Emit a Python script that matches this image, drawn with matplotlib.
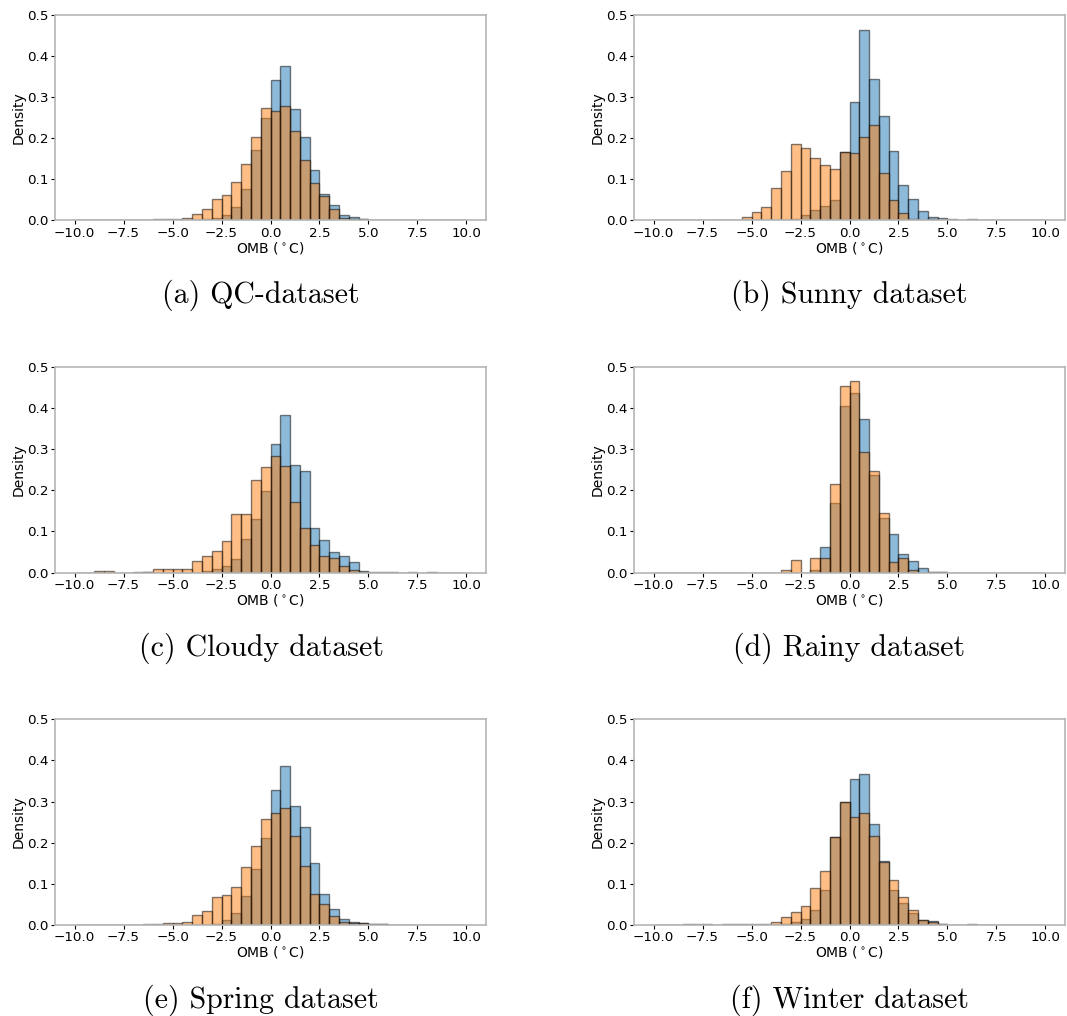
import numpy as np
import matplotlib
matplotlib.use('Agg')
import matplotlib.pyplot as plt

# bin edges -10 .. 10, step 0.5 (40 bins); values are density per bin
edges = np.arange(-10, 10.5, 0.5)

qc_blue = [0, 0, 0, 0, 0, 0, 0, 0.0005, 0.0005, 0.0005, 0.001, 0.001, 0.001, 0.002, 0.006, 0.012,
           0.032, 0.077, 0.170, 0.248, 0.340, 0.376, 0.271, 0.203, 0.122, 0.065, 0.036, 0.013,
           0.008, 0.003, 0.0015, 0.0005, 0, 0, 0, 0, 0, 0, 0, 0]
qc_orange = [0, 0, 0.0005, 0.0005, 0.0005, 0.0005, 0.0005, 0.001, 0.0025, 0.0025, 0.004, 0.006,
             0.015, 0.028, 0.051, 0.061, 0.092, 0.136, 0.203, 0.274, 0.267, 0.278, 0.216, 0.147,
             0.090, 0.058, 0.028, 0.0065, 0.004, 0.0025, 0.001, 0.0003, 0.0003, 0.0003, 0.0003,
             0.0005, 0.0005, 0, 0, 0]

sunny_blue = [0, 0, 0, 0, 0, 0, 0, 0, 0, 0, 0, 0, 0, 0, 0.0025, 0.012, 0.024, 0.034, 0.049, 0.165,
              0.288, 0.462, 0.343, 0.253, 0.168, 0.085, 0.053, 0.022, 0.009, 0.005, 0.0025, 0.001,
              0.0025, 0, 0, 0, 0, 0, 0, 0]
sunny_orange = [0, 0, 0, 0, 0, 0, 0, 0, 0.001, 0.008, 0.019, 0.032, 0.078, 0.119, 0.186, 0.177,
                0.151, 0.135, 0.124, 0.165, 0.164, 0.202, 0.231, 0.114, 0.049, 0.017, 0.003, 0.001,
                0.004, 0.001, 0, 0, 0, 0, 0, 0, 0, 0, 0, 0]

cloudy_blue = [0, 0, 0, 0, 0, 0, 0.002, 0.002, 0, 0, 0, 0, 0, 0.003, 0.009, 0.015, 0.033, 0.082,
               0.130, 0.199, 0.312, 0.383, 0.261, 0.247, 0.108, 0.079, 0.051, 0.041, 0.025, 0.005,
               0.0025, 0.0015, 0.0025, 0, 0, 0, 0.001, 0, 0, 0]
cloudy_orange = [0, 0, 0.003, 0.003, 0, 0, 0, 0.0015, 0.009, 0.008, 0.008, 0.008, 0.028, 0.041,
                 0.052, 0.078, 0.143, 0.142, 0.224, 0.257, 0.284, 0.259, 0.171, 0.108, 0.068, 0.040,
                 0.035, 0.016, 0.006, 0.0025, 0, 0, 0, 0, 0.001, 0, 0, 0, 0, 0]

rainy_blue = [0, 0, 0, 0, 0, 0, 0, 0, 0, 0, 0, 0, 0, 0, 0, 0, 0.006, 0.062, 0.169, 0.404, 0.437,
              0.374, 0.237, 0.133, 0.093, 0.045, 0.028, 0.010, 0.0025, 0.0015, 0, 0, 0, 0, 0, 0,
              0, 0, 0, 0]
rainy_orange = [0, 0, 0, 0, 0, 0, 0, 0, 0, 0, 0, 0, 0, 0.0065, 0.030, 0, 0.036, 0.035, 0.215,
                0.453, 0.465, 0.293, 0.247, 0.146, 0.025, 0.035, 0.006, 0, 0.0015, 0.0025, 0, 0,
                0, 0, 0, 0, 0, 0, 0, 0]

spring_blue = [0, 0, 0, 0, 0, 0, 0, 0, 0, 0, 0, 0, 0, 0, 0.003, 0.011, 0.028, 0.071, 0.137, 0.211,
               0.327, 0.386, 0.290, 0.239, 0.151, 0.075, 0.039, 0.014, 0.007, 0.004, 0.0025, 0.001,
               0, 0, 0, 0, 0, 0, 0, 0]
spring_orange = [0, 0, 0, 0, 0, 0, 0, 0.001, 0.003, 0.005, 0.005, 0.008, 0.025, 0.035, 0.067,
                 0.072, 0.093, 0.142, 0.193, 0.257, 0.271, 0.285, 0.217, 0.144, 0.074, 0.051, 0.022,
                 0.006, 0.005, 0.005, 0.0025, 0.001, 0.0008, 0.0008, 0, 0, 0, 0, 0, 0]

winter_blue = [0, 0, 0, 0.001, 0, 0, 0, 0.0025, 0, 0, 0, 0, 0, 0.0025, 0.008, 0.015, 0.037, 0.086,
               0.214, 0.298, 0.356, 0.367, 0.246, 0.156, 0.086, 0.054, 0.029, 0.012, 0.010, 0.0015,
               0, 0, 0.001, 0, 0, 0, 0.0005, 0, 0, 0]
winter_orange = [0, 0, 0, 0, 0.0015, 0.0025, 0, 0, 0.0015, 0.0025, 0.0025, 0.0025, 0.006, 0.019,
                 0.032, 0.047, 0.090, 0.132, 0.214, 0.298, 0.263, 0.273, 0.215, 0.154, 0.110, 0.067,
                 0.037, 0.012, 0.006, 0.0025, 0, 0, 0, 0, 0.0005, 0, 0, 0, 0, 0]

captions = ['(a) QC-dataset', '(b) Sunny dataset', '(c) Cloudy dataset',
            '(d) Rainy dataset', '(e) Spring dataset', '(f) Winter dataset']
blues = [qc_blue, sunny_blue, cloudy_blue, rainy_blue, spring_blue, winter_blue]
oranges = [qc_orange, sunny_orange, cloudy_orange, rainy_orange, spring_orange, winter_orange]

W, H = 1067, 1016
fig = plt.figure(figsize=(W / 100, H / 100), dpi=100)

centers = (edges[:-1] + edges[1:]) / 2
lefts_px = [55, 634]
tops_px = [14.7, 367, 719.3]
caption_x = [261, 849]

for k in range(6):
    r, c = k // 2, k % 2
    ax = fig.add_axes([lefts_px[c] / W, 1 - (tops_px[r] + 205.6) / H, 431 / W, 205.6 / H])
    ax.hist(centers, bins=edges, weights=blues[k], color='C0', alpha=0.5, edgecolor='black', linewidth=1)
    ax.hist(centers, bins=edges, weights=oranges[k], color='C1', alpha=0.5, edgecolor='black', linewidth=1)
    ax.set_ylim(0, 0.5)
    ax.set_xticks([-10, -7.5, -5, -2.5, 0, 2.5, 5, 7.5, 10])
    ax.tick_params(labelsize=9.7, length=3, width=0.8, pad=1.5)
    ax.set_xlabel('OMB ($^\\circ$C)', fontsize=10, labelpad=0)
    ax.set_ylabel('Density', fontsize=10, labelpad=1)
    for s in ax.spines.values():
        s.set_color('#b5b5b5')
        s.set_linewidth(1.2)
    fig.text(caption_x[c] / W, 1 - (tops_px[r] + 288.5) / H, captions[k],
             family='cmr10', fontsize=21.5, ha='center', va='baseline')

plt.savefig('out.png', dpi=100)
